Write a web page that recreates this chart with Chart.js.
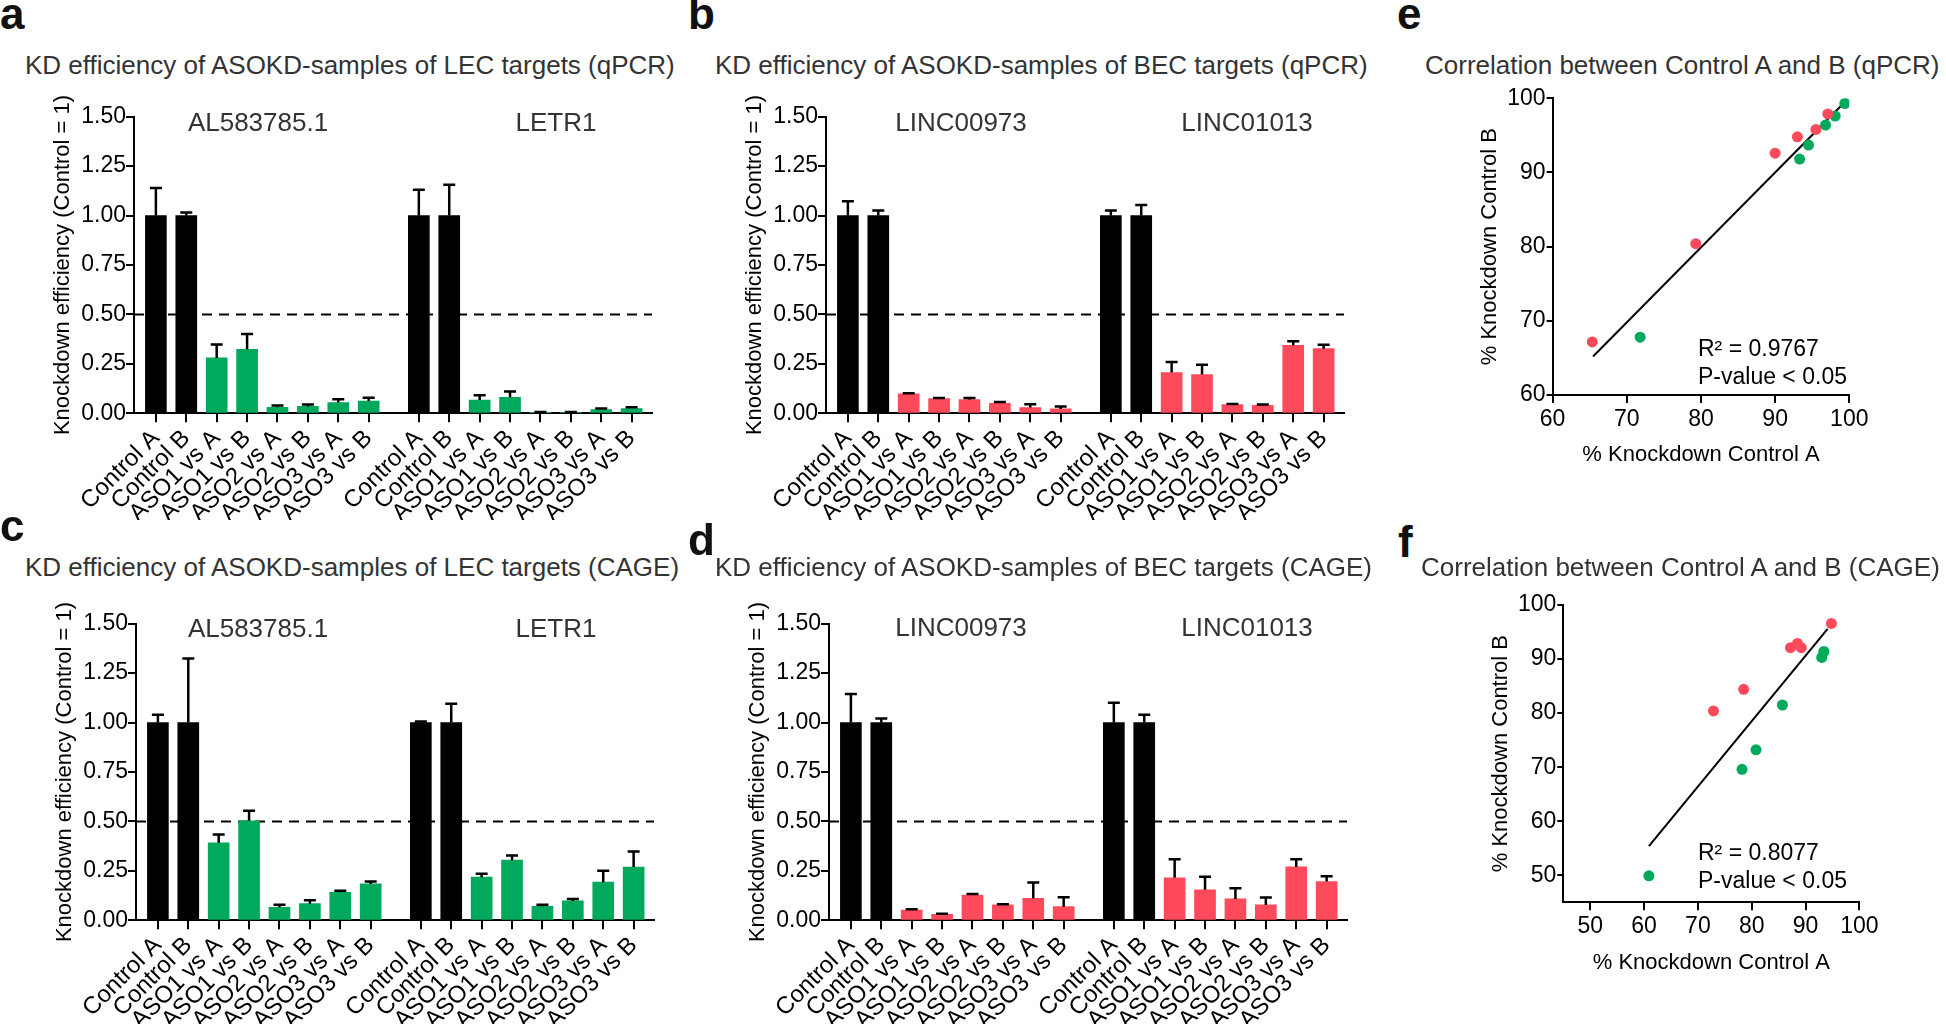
<!DOCTYPE html>
<html>
<head>
<meta charset="utf-8">
<script src="https://cdn.jsdelivr.net/npm/chart.js@4.4.1/dist/chart.umd.min.js"></script>
<style>
  html, body { margin: 0; padding: 0; background: #fff; overflow: hidden; }
  body { width: 1946px; height: 1024px; position: relative; font-family: "Liberation Sans", Arial, Helvetica, sans-serif; }
  canvas { position: absolute; }
  .txt { position: absolute; white-space: nowrap; line-height: 1; }
</style>
</head>
<body>
<canvas id="chartA" width="700" height="430" style="left:0px;top:90px"></canvas>
<canvas id="chartB" width="700" height="430" style="left:692px;top:90px"></canvas>
<canvas id="chartC" width="700" height="430" style="left:2px;top:596.6px"></canvas>
<canvas id="chartD" width="700" height="430" style="left:695px;top:596.6px"></canvas>
<canvas id="chartE" width="480" height="400" style="left:1440px;top:80px"></canvas>
<canvas id="chartF" width="480" height="420" style="left:1440px;top:580px"></canvas>
<script>
const FONT = '"Liberation Sans", Arial, Helvetica, sans-serif';
const BLACK = '#000000';
const GREEN = '#00a95c';
const RED = '#fe4a5b';

// bar categories (two genes per panel, 8 samples each)
const xLabels = [
    'Control A', 'Control B', 'ASO1 vs A', 'ASO1 vs B', 'ASO2 vs A', 'ASO2 vs B', 'ASO3 vs A', 'ASO3 vs B',
    'Control A', 'Control B', 'ASO1 vs A', 'ASO1 vs B', 'ASO2 vs A', 'ASO2 vs B', 'ASO3 vs A', 'ASO3 vs B'
];
const groupGap = 1.65;
const halfLevel = 0.5;

// a: LEC targets (qPCR) - AL583785.1, LETR1
const aValues = [1, 1, 0.28, 0.324, 0.03, 0.035, 0.054, 0.062, 1, 1, 0.067, 0.081, 0.003, 0.004, 0.019, 0.024];
const aErrors = [0.14, 0.016, 0.068, 0.077, 0.01, 0.01, 0.017, 0.017, 0.13, 0.156, 0.024, 0.029, 0.003, 0.003, 0.005, 0.006];
// b: BEC targets (qPCR) - LINC00973, LINC01013
const bValues = [1, 1, 0.098, 0.074, 0.069, 0.051, 0.029, 0.022, 1, 1, 0.206, 0.196, 0.044, 0.040, 0.344, 0.327];
const bErrors = [0.072, 0.026, 0.003, 0.004, 0.008, 0.006, 0.017, 0.013, 0.025, 0.053, 0.054, 0.049, 0.003, 0.004, 0.02, 0.02];
// c: LEC targets (CAGE)
const cValues = [1, 1, 0.392, 0.503, 0.066, 0.084, 0.142, 0.184, 1, 1, 0.218, 0.304, 0.071, 0.098, 0.193, 0.269];
const cErrors = [0.039, 0.324, 0.042, 0.051, 0.013, 0.017, 0.008, 0.012, 0.005, 0.095, 0.018, 0.024, 0.008, 0.01, 0.057, 0.079];
// d: BEC targets (CAGE)
const dValues = [1, 1, 0.052, 0.030, 0.127, 0.078, 0.111, 0.069, 1, 1, 0.215, 0.154, 0.108, 0.078, 0.270, 0.196];
const dErrors = [0.144, 0.020, 0.004, 0.003, 0.006, 0.003, 0.08, 0.048, 0.10, 0.039, 0.094, 0.066, 0.054, 0.037, 0.039, 0.027];

// e / f: % knockdown, [Control A, Control B]
const eRed = [[65.35, 67.15], [79.3, 80.4], [90.0, 92.6], [93.0, 94.8], [95.5, 95.8], [97.1, 97.9]];
const eGreen = [[71.8, 67.8], [93.3, 91.8], [94.5, 93.7], [96.8, 96.4], [98.1, 97.6], [99.4, 99.3]];
const eFit = [[65.45, 65.2], [98.9, 99.0]];
const fRed = [[72.9, 80.4], [78.5, 84.4], [87.2, 92.1], [88.5, 92.9], [89.2, 92.1], [94.8, 96.6]];
const fGreen = [[60.9, 49.9], [78.2, 69.6], [80.8, 73.2], [85.7, 81.5], [93.0, 90.3], [93.4, 91.4]];
const fFit = [[60.9, 55.4], [94.1, 95.6]];
const eTicks = [60, 70, 80, 90, 100];
const fTicks = [50, 60, 70, 80, 90, 100];

// second gene group is pushed right by a gap
const barPositions = xLabels.map((_, i) => i < 8 ? i : i - 1 + groupGap);

const errorBars = {
    id: 'errorBars',
    afterDatasetsDraw(chart) {
        const ctx = chart.ctx;
        const y = chart.scales.y;
        chart.data.datasets.forEach((ds, di) => {
            if (!ds.errors) return;
            chart.getDatasetMeta(di).data.forEach((bar, i) => {
                const top = y.getPixelForValue(ds.data[i].y + ds.errors[i]);
                ctx.save();
                ctx.strokeStyle = '#000';
                ctx.lineWidth = 2.5;
                ctx.beginPath();
                ctx.moveTo(bar.x, bar.y);
                ctx.lineTo(bar.x, top);
                ctx.moveTo(bar.x - 6, top);
                ctx.lineTo(bar.x + 6, top);
                ctx.stroke();
                ctx.restore();
            });
        });
    }
};

const refLine = {
    id: 'refLine',
    beforeDatasetsDraw(chart) {
        const { ctx, chartArea, scales: { y } } = chart;
        const py = y.getPixelForValue(halfLevel);
        ctx.save();
        ctx.setLineDash([10, 7]);
        ctx.lineWidth = 2;
        ctx.strokeStyle = '#000';
        ctx.beginPath();
        ctx.moveTo(chartArea.left, py);
        ctx.lineTo(chartArea.right, py);
        ctx.stroke();
        ctx.restore();
    }
};

const axisGrid = (len) => ({ display: true, drawOnChartArea: false, drawTicks: true, tickLength: len, color: '#000', lineWidth: 2, offset: false });
const axisBorder = { display: true, color: '#000', width: 2 };

function barPanel(id, values, errors, color) {
    return new Chart(document.getElementById(id), {
        type: 'bar',
        data: {
            datasets: [{
                data: values.map((v, i) => ({ x: barPositions[i], y: v })),
                backgroundColor: xLabels.map(l => l.startsWith('Control') ? BLACK : color),
                errors: errors,
                barThickness: 21,
                borderWidth: 0
            }]
        },
        options: {
            responsive: false,
            animation: false,
            layout: { padding: { left: 0, top: 26.7, right: 48, bottom: 0 } },
            plugins: { legend: { display: false }, tooltip: { enabled: false } },
            scales: {
                x: {
                    type: 'linear', min: -0.72, max: 16.32, offset: false,
                    afterBuildTicks: s => { s.ticks = barPositions.map(v => ({ value: v })); },
                    afterFit: s => { s.height = 106.7; },
                    grid: axisGrid(9),
                    border: axisBorder,
                    ticks: {
                        autoSkip: false, maxRotation: 45, minRotation: 45, padding: 2, color: '#000',
                        font: { family: FONT, size: 24 },
                        callback: (v, i) => xLabels[i]
                    }
                },
                y: {
                    min: 0, max: 1.5,
                    afterFit: s => { s.width = 134; },
                    grid: axisGrid(8),
                    border: axisBorder,
                    ticks: { stepSize: 0.25, padding: 0, color: '#000', font: { family: FONT, size: 23 }, callback: v => v.toFixed(2) },
                    title: { display: true, text: 'Knockdown efficiency (Control = 1)', color: '#000', font: { family: FONT, size: 22 }, padding: { top: 50 } }
                }
            }
        },
        plugins: [refLine, errorBars]
    });
}

function scatterPanel(id, red, green, fit, lo, ticks, g) {
    const pts = arr => arr.map(p => ({ x: p[0], y: p[1] }));
    const tickList = s => { s.ticks = ticks.map(v => ({ value: v })); };
    return new Chart(document.getElementById(id), {
        type: 'scatter',
        data: {
            datasets: [
                { data: pts(red), backgroundColor: RED, pointRadius: 5.5, borderWidth: 0, order: 0 },
                { data: pts(green), backgroundColor: GREEN, pointRadius: 5.5, borderWidth: 0, order: 0 },
                { data: pts(fit), showLine: true, borderColor: '#000', borderWidth: 2, pointRadius: 0, order: 1 }
            ]
        },
        options: {
            responsive: false,
            animation: false,
            layout: { padding: { left: 0, top: g.top, right: g.right, bottom: 0 } },
            plugins: { legend: { display: false }, tooltip: { enabled: false } },
            scales: {
                x: {
                    type: 'linear', min: lo, max: 100,
                    afterBuildTicks: tickList,
                    afterFit: s => { s.height = g.xh; },
                    grid: axisGrid(8),
                    border: axisBorder,
                    ticks: { padding: 3, color: '#000', font: { family: FONT, size: 23 } },
                    title: { display: true, text: '% Knockdown Control A', color: '#000', font: { family: FONT, size: 22 }, padding: { bottom: g.xtp } }
                },
                y: {
                    type: 'linear', min: lo, max: 100,
                    afterBuildTicks: tickList,
                    afterFit: s => { s.width = g.yw; },
                    grid: axisGrid(6),
                    border: axisBorder,
                    ticks: { padding: 1, color: '#000', font: { family: FONT, size: 23 } },
                    title: { display: true, text: '% Knockdown Control B', color: '#000', font: { family: FONT, size: 22 }, padding: { top: g.ytp } }
                }
            }
        }
    });
}

barPanel('chartA', aValues, aErrors, GREEN);
barPanel('chartB', bValues, bErrors, RED);
barPanel('chartC', cValues, cErrors, GREEN);
barPanel('chartD', dValues, dErrors, RED);
scatterPanel('chartE', eRed, eGreen, eFit, 60, eTicks, { top: 18.3, right: 70.7, xh: 85, yw: 112.6, xtp: 11.8, ytp: 36.8 });
scatterPanel('chartF', fRed, fGreen, fFit, 45, fTicks, { top: 25, right: 60.6, xh: 97.7, yw: 123.3, xtp: 24, ytp: 47.8 });

// text layer: cy is the cap-height centre
function addText(str, x, cy, size, opts = {}) {
    const el = document.createElement('div');
    el.className = 'txt';
    el.textContent = str;
    el.style.fontSize = size + 'px';
    el.style.left = x + 'px';
    el.style.top = (cy - 0.4885 * size) + 'px';
    el.style.color = opts.color || '#000';
    if (opts.bold) el.style.fontWeight = 'bold';
    if (opts.center) el.style.transform = 'translateX(-50%)';
    document.body.appendChild(el);
}
const letter = (s, x, baseline) => addText(s, x, baseline - 0.358 * 44, 44, { bold: true, color: '#111' });

letter('a', 0, 29);
letter('b', 688, 29);
letter('e', 1397, 29);
letter('c', 0, 541);
letter('d', 688, 555);
letter('f', 1398, 557);

addText('KD efficiency of ASOKD-samples of LEC targets (qPCR)', 25, 65, 26, { color: '#333' });
addText('KD efficiency of ASOKD-samples of BEC targets (qPCR)', 715, 65, 26, { color: '#333' });
addText('Correlation between Control A and B (qPCR)', 1425, 65, 26, { color: '#333' });
addText('KD efficiency of ASOKD-samples of LEC targets (CAGE)', 25, 567, 26, { color: '#333' });
addText('KD efficiency of ASOKD-samples of BEC targets (CAGE)', 715, 567, 26, { color: '#333' });
addText('Correlation between Control A and B (CAGE)', 1421, 567, 26, { color: '#333' });

addText('AL583785.1', 258, 122, 26, { color: '#333', center: true });
addText('LETR1', 556, 122, 26, { color: '#333', center: true });
addText('LINC00973', 961, 122, 26, { color: '#333', center: true });
addText('LINC01013', 1247, 122, 26, { color: '#333', center: true });
addText('AL583785.1', 258, 628, 26, { color: '#333', center: true });
addText('LETR1', 556, 628, 26, { color: '#333', center: true });
addText('LINC00973', 961, 627, 26, { color: '#333', center: true });
addText('LINC01013', 1247, 627, 26, { color: '#333', center: true });

addText('R² = 0.9767', 1698, 348, 23);
addText('P-value < 0.05', 1698, 376, 23);
addText('R² = 0.8077', 1698, 852, 23);
addText('P-value < 0.05', 1698, 880, 23);
</script>
</body>
</html>
